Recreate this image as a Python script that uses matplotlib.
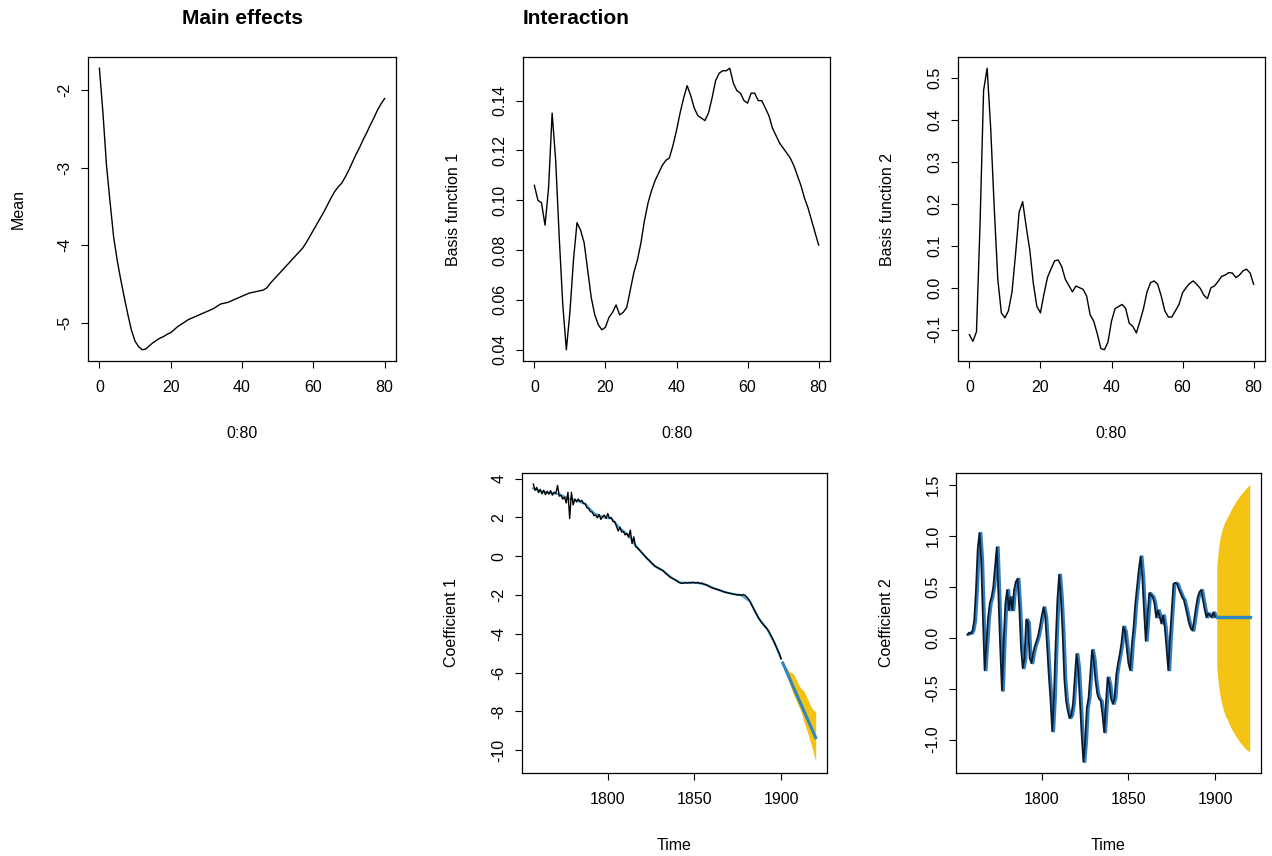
import numpy as np
import matplotlib
matplotlib.use('Agg')
import matplotlib.pyplot as plt

plt.rcParams['font.family'] = ['Liberation Sans', 'DejaVu Sans']
plt.rcParams['axes.unicode_minus'] = False

# ---------------- data ----------------
ages = np.arange(0, 81)

mean_effect = [-1.72, -2.30, -2.98, -3.45, -3.90, -4.20, -4.45, -4.68, -4.90, -5.10,
               -5.24, -5.31, -5.35, -5.34, -5.30, -5.26, -5.23, -5.20, -5.18, -5.15,
               -5.13, -5.09, -5.05, -5.02, -4.99, -4.96, -4.94, -4.92, -4.90, -4.88,
               -4.86, -4.84, -4.82, -4.79, -4.76, -4.75, -4.74, -4.72, -4.70, -4.68,
               -4.66, -4.64, -4.62, -4.61, -4.60, -4.59, -4.58, -4.55, -4.49, -4.44,
               -4.39, -4.34, -4.29, -4.24, -4.19, -4.14, -4.09, -4.04, -3.97, -3.89,
               -3.81, -3.73, -3.65, -3.57, -3.48, -3.39, -3.31, -3.25, -3.20, -3.12,
               -3.03, -2.93, -2.83, -2.74, -2.64, -2.55, -2.45, -2.36, -2.26, -2.18,
               -2.11]

basis1 = [0.106, 0.100, 0.099, 0.090, 0.105, 0.135, 0.116, 0.085, 0.058, 0.040,
          0.055, 0.076, 0.091, 0.088, 0.083, 0.072, 0.061, 0.054, 0.050, 0.048,
          0.049, 0.053, 0.055, 0.058, 0.054, 0.055, 0.057, 0.064, 0.071, 0.076,
          0.083, 0.092, 0.099, 0.104, 0.108, 0.111, 0.114, 0.116, 0.117, 0.122,
          0.128, 0.135, 0.141, 0.146, 0.142, 0.137, 0.134, 0.133, 0.132, 0.135,
          0.141, 0.148, 0.151, 0.152, 0.152, 0.153, 0.147, 0.144, 0.143, 0.140,
          0.139, 0.143, 0.143, 0.140, 0.140, 0.137, 0.134, 0.129, 0.126, 0.123,
          0.121, 0.119, 0.117, 0.114, 0.110, 0.106, 0.101, 0.097, 0.092, 0.087,
          0.082]

basis2 = [-0.112, -0.128, -0.105, 0.15, 0.47, 0.523, 0.38, 0.19, 0.02, -0.06,
          -0.072, -0.055, -0.01, 0.08, 0.18, 0.205, 0.145, 0.09, 0.01, -0.045,
          -0.06, -0.015, 0.025, 0.045, 0.064, 0.066, 0.05, 0.02, 0.005, -0.01,
          0.004, 0.0, -0.004, -0.02, -0.065, -0.08, -0.11, -0.145, -0.148, -0.13,
          -0.08, -0.05, -0.045, -0.04, -0.05, -0.085, -0.092, -0.108, -0.08, -0.05,
          -0.01, 0.012, 0.016, 0.008, -0.02, -0.055, -0.07, -0.07, -0.055, -0.04,
          -0.012, 0.0, 0.01, 0.016, 0.008, -0.002, -0.018, -0.026, 0.0, 0.004,
          0.015, 0.027, 0.03, 0.036, 0.035, 0.024, 0.03, 0.04, 0.044, 0.035,
          0.008]

first_year = 1757
coef1 = [3.72, 3.40, 3.55, 3.28, 3.45, 3.22, 3.40, 3.18, 3.35, 3.20,
         3.38, 3.15, 3.30, 3.25, 3.65, 3.10, 3.15, 2.95, 3.05, 2.75,
         3.30, 1.95, 3.30, 2.65, 2.95, 2.80, 2.95, 2.82, 2.88, 2.72,
         2.70, 2.50, 2.45, 2.30, 2.28, 2.10, 2.12, 1.98, 2.15, 1.90,
         2.05, 2.12, 1.95, 2.20, 1.95, 2.00, 1.80, 1.78, 1.55, 1.30,
         1.50, 1.25, 1.28, 1.10, 1.18, 0.98, 1.35, 0.65, 1.00, 0.50,
         0.45, 0.35, 0.25, 0.15, 0.05, -0.05, -0.15, -0.22, -0.33, -0.40,
         -0.50, -0.55, -0.60, -0.65, -0.70, -0.75, -0.85, -0.92, -1.00, -1.08,
         -1.12, -1.18, -1.22, -1.28, -1.35, -1.38, -1.40, -1.38, -1.36, -1.38,
         -1.35, -1.37, -1.34, -1.36, -1.38, -1.35, -1.40, -1.38, -1.42, -1.45,
         -1.48, -1.52, -1.58, -1.62, -1.65, -1.68, -1.70, -1.73, -1.76, -1.80,
         -1.83, -1.86, -1.88, -1.90, -1.92, -1.94, -1.96, -1.98, -2.00, -1.98,
         -2.02, -1.97, -2.00, -2.08, -2.18, -2.32, -2.50, -2.68, -2.85, -3.02,
         -3.18, -3.32, -3.45, -3.55, -3.65, -3.75, -3.88, -4.05, -4.22, -4.40,
         -4.62, -4.82, -5.02, -5.28]

coef1_fit_years = [1757, 1762, 1767, 1772, 1777, 1782, 1787, 1792, 1797, 1802,
                   1807, 1812, 1817, 1822, 1827, 1832, 1837, 1842, 1847, 1852,
                   1857, 1862, 1867, 1872, 1877, 1882, 1887, 1892, 1897, 1900]
coef1_fit = [3.50, 3.33, 3.27, 3.20, 2.98, 2.87, 2.70, 2.22, 2.02, 1.95,
             1.45, 1.08, 0.45, -0.05, -0.50, -0.75, -1.12, -1.36, -1.37, -1.37,
             -1.48, -1.68, -1.83, -1.94, -2.00, -2.32, -3.18, -3.75, -4.62, -5.28]

coef2 = [0.03, 0.05, 0.04, 0.07, 0.17, 0.47, 0.87, 1.03, 0.77, 0.20,
         -0.32, -0.06, 0.20, 0.34, 0.40, 0.50, 0.70, 0.89, 0.40, -0.10,
         -0.52, -0.03, 0.34, 0.47, 0.27, 0.40, 0.27, 0.47, 0.55, 0.58,
         0.30, -0.10, -0.30, -0.20, 0.18, 0.15, -0.20, -0.25, -0.15, -0.08,
         -0.03, 0.03, 0.12, 0.22, 0.30, 0.20, -0.06, -0.36, -0.60, -0.92,
         -0.59, -0.06, 0.37, 0.62, 0.40, 0.05, -0.40, -0.62, -0.72, -0.79,
         -0.76, -0.65, -0.40, -0.16, -0.30, -0.62, -0.95, -1.22, -1.02, -0.69,
         -0.59, -0.36, -0.12, -0.22, -0.42, -0.55, -0.60, -0.62, -0.75, -0.93,
         -0.65, -0.39, -0.46, -0.60, -0.65, -0.59, -0.36, -0.25, -0.16, -0.05,
         0.11, 0.06, -0.10, -0.25, -0.32, -0.06, 0.11, 0.34, 0.50, 0.67,
         0.80, 0.60, 0.27, -0.03, 0.20, 0.44, 0.42, 0.40, 0.34, 0.20,
         0.27, 0.21, 0.14, 0.22, 0.10, -0.10, -0.32, 0.01, 0.27, 0.53,
         0.54, 0.53, 0.48, 0.44, 0.40, 0.37, 0.30, 0.22, 0.14, 0.09,
         0.07, 0.18, 0.30, 0.40, 0.45, 0.47, 0.37, 0.28, 0.20, 0.24,
         0.22, 0.20, 0.25, 0.205]

fc_years = [1901, 1902, 1903, 1904, 1905, 1906, 1907, 1908, 1909, 1910,
            1911, 1912, 1913, 1914, 1915, 1916, 1917, 1918, 1919, 1920]
coef1_fc = [-5.50, -5.70, -5.91, -6.11, -6.31, -6.52, -6.72, -6.92, -7.12, -7.33,
            -7.53, -7.73, -7.94, -8.14, -8.34, -8.55, -8.75, -8.95, -9.15, -9.35]
coef1_hi = [-5.45, -5.60, -5.75, -5.85, -5.95, -6.00, -6.05, -6.20, -6.40, -6.60,
            -6.75, -6.85, -6.92, -7.10, -7.30, -7.50, -7.70, -7.85, -7.96, -8.00]
coef1_lo = [-5.60, -5.85, -6.10, -6.35, -6.60, -6.85, -7.10, -7.30, -7.50, -7.70,
            -7.90, -8.15, -8.45, -8.75, -9.00, -9.30, -9.60, -9.90, -10.25, -10.60]

coef2_fc = [0.205, 0.205, 0.205, 0.205, 0.205, 0.205, 0.205, 0.205, 0.205, 0.205,
            0.205, 0.205, 0.205, 0.205, 0.205, 0.205, 0.205, 0.205, 0.205, 0.205]
coef2_hi = [0.70, 0.88, 0.99, 1.06, 1.11, 1.15, 1.18, 1.21, 1.25, 1.28,
            1.31, 1.34, 1.36, 1.39, 1.41, 1.43, 1.45, 1.47, 1.49, 1.51]
coef2_lo = [-0.29, -0.47, -0.58, -0.66, -0.72, -0.77, -0.80, -0.84, -0.88, -0.91,
            -0.94, -0.97, -0.99, -1.02, -1.04, -1.06, -1.08, -1.10, -1.11, -1.12]

years = np.arange(first_year, first_year + len(coef1))

# ---------------- style ----------------
W, H = 1272, 856
fig = plt.figure(figsize=(W / 100, H / 100), dpi=100)
fig.patch.set_facecolor('white')

GOLD = '#F3C212'
BLUE_FC = '#2F86BE'
BLUE_FIT = '#4BA6DA'
BLUE_FIT2 = '#2F7FC1'
FS = 11.5


def add_axes(x0, y0, x1, y1):
    return fig.add_axes([x0 / W, 1 - y1 / H, (x1 - x0) / W, (y1 - y0) / H])


def rlim(*arrs):
    v = np.concatenate([np.asarray(a, float) for a in arrs])
    lo, hi = v.min(), v.max()
    d = 0.04 * (hi - lo)
    return lo - d, hi + d


def style(ax, xticks, yticks, yfmt, xlabel, ylabel, wpx, hpx):
    ax.set_xticks(xticks)
    ax.set_xticklabels([str(t) for t in xticks])
    ax.set_yticks(yticks)
    ax.set_yticklabels([yfmt.format(v) if yfmt else str(v) for v in yticks],
                       rotation=90, va='center')
    ax.tick_params(axis='both', direction='out', length=5, width=0.8,
                   labelsize=FS, colors='black')
    ax.tick_params(axis='x', pad=9)
    ax.tick_params(axis='y', pad=6)
    for s in ax.spines.values():
        s.set_linewidth(0.9)
        s.set_color('black')
    ax.text(0.5, -72 / hpx, xlabel, transform=ax.transAxes, ha='center',
            va='center', fontsize=FS)
    ax.text(-70 / wpx, 0.5, ylabel, transform=ax.transAxes, ha='center',
            va='center', rotation=90, fontsize=FS)


# Panel 1: mean
ax1 = add_axes(88, 57, 396, 361)
ax1.plot(ages, mean_effect, color='black', lw=1.0)
ax1.set_xlim(rlim(ages))
ax1.set_ylim(rlim(mean_effect))
style(ax1, [0, 20, 40, 60, 80], [-5, -4, -3, -2], None, '0:80', 'Mean', 308, 304)

# Panel 2: basis 1
ax2 = add_axes(523, 57, 830, 361)
ax2.plot(ages, basis1, color='black', lw=1.0)
ax2.set_xlim(rlim(ages))
ax2.set_ylim(rlim(basis1))
style(ax2, [0, 20, 40, 60, 80], [0.04, 0.06, 0.08, 0.10, 0.12, 0.14], '{:.2f}',
      '0:80', 'Basis function 1', 307, 304)

# Panel 3: basis 2
ax3 = add_axes(958, 57, 1265, 361)
ax3.plot(ages, basis2, color='black', lw=1.0)
ax3.set_xlim(rlim(ages))
ax3.set_ylim(rlim(basis2))
style(ax3, [0, 20, 40, 60, 80], [-0.1, 0.0, 0.1, 0.2, 0.3, 0.4, 0.5], '{:.1f}',
      '0:80', 'Basis function 2', 307, 304)

# Panel 4: coefficient 1
ax4 = add_axes(522, 473, 827, 773)
ax4.fill_between(fc_years, coef1_lo, coef1_hi, color=GOLD, lw=0)
ax4.plot(coef1_fit_years, coef1_fit, color=BLUE_FIT, lw=1.6)
ax4.plot(years, coef1, color='black', lw=1.0)
ax4.plot(fc_years, coef1_fc, color=BLUE_FC, lw=2.2)
ax4.set_xlim(rlim(years, fc_years))
ax4.set_ylim(rlim(coef1, coef1_lo, coef1_hi))
style(ax4, [1800, 1850, 1900], [-10, -8, -6, -4, -2, 0, 2, 4], None,
      'Time', 'Coefficient 1', 305, 300)

# Panel 5: coefficient 2
ax5 = add_axes(956, 473, 1261, 773)
ax5.fill_between(fc_years, coef2_lo, coef2_hi, color=GOLD, lw=0)
ax5.plot(years + 1, coef2, color=BLUE_FIT2, lw=1.8)
ax5.plot(years, coef2, color='#0B1A2E', lw=1.3)
ax5.plot(fc_years, coef2_fc, color=BLUE_FC, lw=2.4)
ax5.set_xlim(rlim(years, fc_years))
ax5.set_ylim(rlim(coef2, coef2_lo, coef2_hi))
style(ax5, [1800, 1850, 1900], [-1.0, -0.5, 0.0, 0.5, 1.0, 1.5], '{:.1f}',
      'Time', 'Coefficient 2', 305, 300)

# Titles
fig.text(242 / W, 1 - 18 / H, 'Main effects', ha='center', va='center',
         fontsize=15, fontweight='bold')
fig.text(576 / W, 1 - 18 / H, 'Interaction', ha='center', va='center',
         fontsize=15, fontweight='bold')

fig.savefig('out.png', dpi=100, facecolor='white')
